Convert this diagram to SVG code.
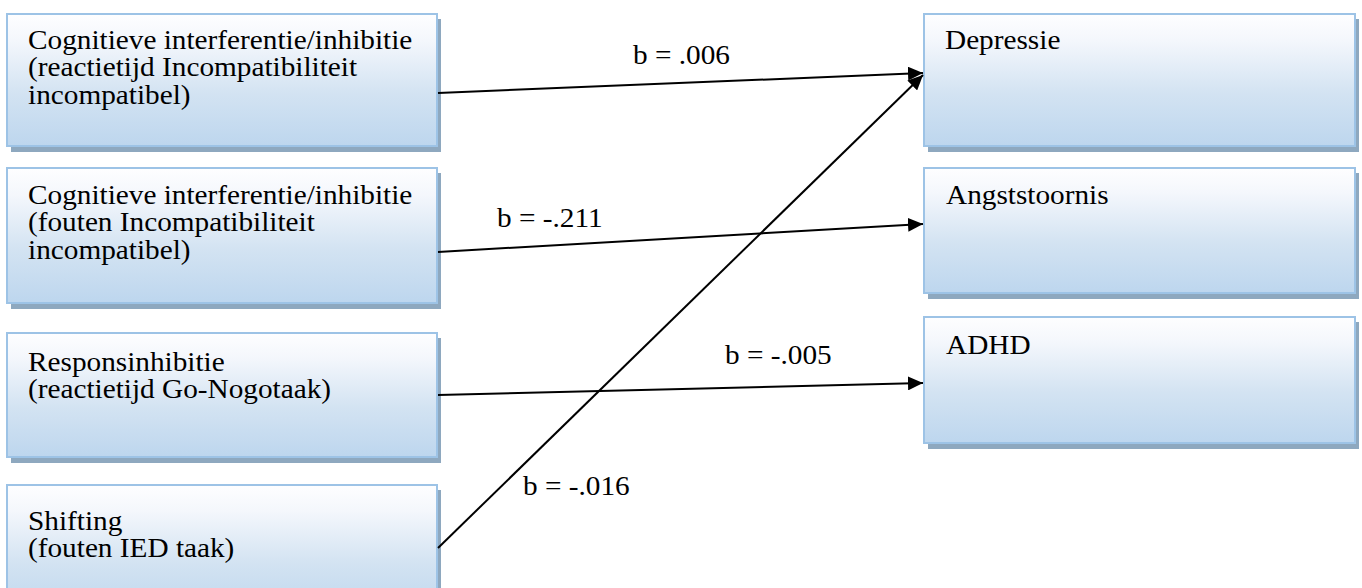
<svg xmlns="http://www.w3.org/2000/svg" width="1362" height="588" viewBox="0 0 1362 588">
<style>
.box{fill:url(#g);stroke:#9dc3e6;stroke-width:2}
.sh{fill:#8ea8bf}
.t{font-family:'Liberation Serif','Times New Roman',serif;font-size:26.5px;fill:#000}
.c{stroke:#000;stroke-width:2;fill:none;marker-end:url(#ah)}
</style>
<defs>
<linearGradient id="g" x1="0" y1="0" x2="0" y2="1">
<stop offset="0" stop-color="#fefeff"/>
<stop offset="0.2" stop-color="#f4f7fc"/>
<stop offset="0.6" stop-color="#d3e3f2"/>
<stop offset="1" stop-color="#bdd6ee"/>
</linearGradient>
<marker id="ah" markerUnits="userSpaceOnUse" markerWidth="16" markerHeight="14" refX="15" refY="7" orient="auto" viewBox="0 0 16 14">
<path d="M0,0 L15,7 L0,14 z" fill="#000"/>
</marker>
</defs>
<g id="n1">
<rect class="sh" x="11" y="19" width="430" height="133"/>
<rect class="box" x="7" y="14" width="430" height="132"/>
<text class="t" transform="matrix(1.105,0,0,1,28,49)"><tspan x="0" y="0">Cognitieve interferentie/inhibitie</tspan><tspan x="0" y="27.5">(reactietijd Incompatibiliteit</tspan><tspan x="0" y="55">incompatibel)</tspan></text>
</g>
<g id="n2">
<rect class="sh" x="11" y="173" width="430" height="136"/>
<rect class="box" x="7" y="168" width="430" height="135"/>
<text class="t" transform="matrix(1.105,0,0,1,28,204)"><tspan x="0" y="0">Cognitieve interferentie/inhibitie</tspan><tspan x="0" y="27.5">(fouten Incompatibiliteit</tspan><tspan x="0" y="55">incompatibel)</tspan></text>
</g>
<g id="n3">
<rect class="sh" x="11" y="338" width="430" height="125"/>
<rect class="box" x="7" y="333" width="430" height="124"/>
<text class="t" transform="matrix(1.105,0,0,1,28,371)"><tspan x="0" y="0">Responsinhibitie</tspan><tspan x="0" y="27.5">(reactietijd Go-Nogotaak)</tspan></text>
</g>
<g id="n4">
<rect class="sh" x="11" y="490" width="430" height="130"/>
<rect class="box" x="7" y="485" width="430" height="130"/>
<text class="t" transform="matrix(1.105,0,0,1,28,530)"><tspan x="0" y="0">Shifting</tspan><tspan x="0" y="27.5">(fouten IED taak)</tspan></text>
</g>
<g id="n5">
<rect class="sh" x="928" y="19" width="431" height="133"/>
<rect class="box" x="924" y="14" width="431" height="132"/>
<text class="t" transform="matrix(1.105,0,0,1,945,49)">Depressie</text>
</g>
<g id="n6">
<rect class="sh" x="928" y="173" width="431" height="126"/>
<rect class="box" x="924" y="168" width="431" height="125"/>
<text class="t" transform="matrix(1.105,0,0,1,946,204)">Angststoornis</text>
</g>
<g id="n7">
<rect class="sh" x="928" y="322" width="431" height="127"/>
<rect class="box" x="924" y="317" width="431" height="126"/>
<text class="t" transform="matrix(1.105,0,0,1,946,354)">ADHD</text>
</g>
<g id="connectors">
<line class="c" x1="438" y1="93" x2="923" y2="73"/>
<line class="c" x1="438" y1="252" x2="923" y2="224"/>
<line class="c" x1="438" y1="395" x2="923" y2="383"/>
<line class="c" x1="438" y1="548" x2="923" y2="75"/>
<text class="t" transform="matrix(1.105,0,0,1,633,64)">b = .006</text>
<text class="t" transform="matrix(1.105,0,0,1,497,227)">b = -.211</text>
<text class="t" transform="matrix(1.105,0,0,1,725,364)">b = -.005</text>
<text class="t" transform="matrix(1.105,0,0,1,523,495)">b = -.016</text>
</g>
</svg>
